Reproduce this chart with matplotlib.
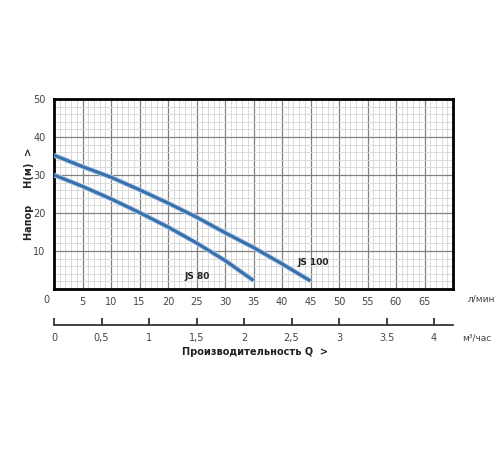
import matplotlib
matplotlib.use("Agg")
import matplotlib.pyplot as plt
import numpy as np
from matplotlib.ticker import MultipleLocator

# Data
q_js100 = [0, 5, 10, 15, 20, 25, 30, 35, 40, 45]
h_js100 = [35.2, 32.2, 29.4, 26.1, 22.6, 18.9, 14.8, 10.9, 6.6, 2.1]
q_js80 = [0, 5, 10, 15, 20, 25, 30, 35]
h_js80 = [30.0, 27.0, 23.7, 20.1, 16.3, 12.1, 7.5, 2.2]

x_ticks = [5, 10, 15, 20, 25, 30, 35, 40, 45, 50, 55, 60, 65]
y_ticks = [10, 20, 30, 40, 50]
m3_ticks = [0, 0.5, 1, 1.5, 2, 2.5, 3, 3.5, 4]
m3_labels = ["0", "0,5", "1", "1,5", "2", "2,5", "3", "3.5", "4"]

plt.rcParams['font.family'] = ['DejaVu Sans']

fig = plt.figure(figsize=(5, 4.5), dpi=100)
ax = fig.add_axes([0.108, 0.358, 0.798, 0.422])

line_c = '#3a70ab'
for q, h in [(q_js100, h_js100), (q_js80, h_js80)]:
    ax.plot(q, h, color='#b4d0ec', lw=3.6, solid_capstyle='butt', zorder=3)
    ax.plot(q, h, color=line_c, lw=2.3, solid_capstyle='butt', zorder=4)

ax.set_xlim(0, 70)
ax.set_ylim(0, 50)
ax.xaxis.set_major_locator(plt.FixedLocator(x_ticks))
ax.xaxis.set_minor_locator(MultipleLocator(1))
ax.yaxis.set_major_locator(plt.FixedLocator(y_ticks))
ax.yaxis.set_minor_locator(MultipleLocator(2))
ax.grid(which='minor', color='#d6d6d6', lw=0.6, zorder=0)
ax.grid(which='major', color='#808080', lw=0.9, zorder=1)
ax.set_axisbelow(True)
ax.tick_params(which='both', length=0, labelsize=7, labelcolor='#444444')
ax.tick_params(axis='x', pad=6)
ax.tick_params(axis='y', pad=6)
for s in ax.spines.values():
    s.set_linewidth(2)
    s.set_color('black')

ax.text(-1.3, -1.6, '0', fontsize=7, color='#444444', ha='center', va='top')
ax.text(72.5, -1.6, 'л/мин', fontsize=6.5, color='#444444', ha='left', va='top')

ax.text(25.2, 3.2, 'JS 80', fontsize=6.5, fontweight='bold', ha='center', va='center', color='#222222')
ax.text(45.5, 7.0, 'JS 100', fontsize=6.5, fontweight='bold', ha='center', va='center', color='#222222')

fig.text(0.058, 0.57, 'Напор     H(м)  >', rotation=90, fontsize=7, fontweight='bold',
         ha='center', va='center', color='#222222')

# second axis (m3/h)
ax2 = fig.add_axes([0.108, 0.278, 0.798, 0.001])
ax2.set_xlim(0, 4.2)
ax2.set_ylim(0, 1)
for k in ['top', 'left', 'right']:
    ax2.spines[k].set_visible(False)
ax2.spines['bottom'].set_linewidth(1.2)
ax2.spines['bottom'].set_color('#222222')
ax2.set_yticks([])
ax2.set_xticks(m3_ticks)
ax2.set_xticklabels(m3_labels)
ax2.tick_params(axis='x', direction='in', length=5, width=1.2, color='#222222',
                labelsize=7, labelcolor='#444444', pad=6)
fig.text(0.925, 0.248, 'м³/час', fontsize=6.5, color='#444444', ha='left', va='center')
fig.text(0.51, 0.217, 'Производительность Q  >', fontsize=7, fontweight='bold',
         ha='center', va='center', color='#222222')

fig.savefig('out.png', dpi=100, facecolor='white')
